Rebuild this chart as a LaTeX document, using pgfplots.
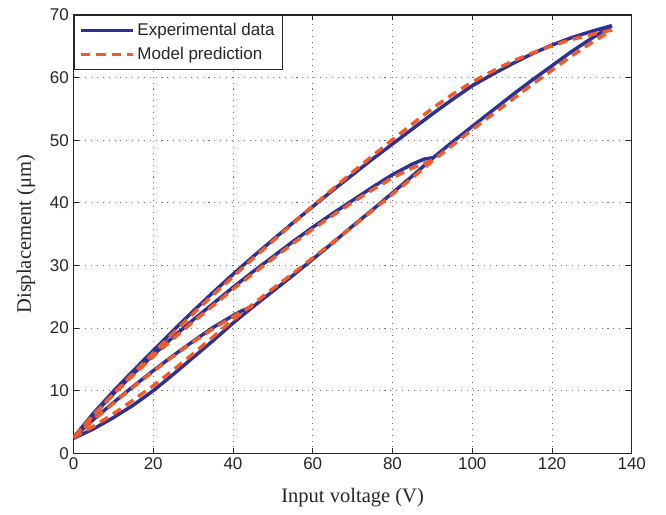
\documentclass[border=0pt]{standalone}
\usepackage{fontspec}
\setmainfont{Liberation Serif}
\newfontfamily\arial{Liberation Sans}
\usepackage{pgfplots}
\pgfplotsset{compat=1.18}
\usepackage{pgfplotstable}
\usetikzlibrary{calc}
\definecolor{expblue}{HTML}{2E3192}
\definecolor{modorange}{HTML}{F15A29}

% experimental data (branches)
\pgfplotstableread{
x y
0 2.4
5 3.9
10 5.7
15 7.7
20 10.0
25 12.6
30 15.3
35 18.0
40 20.8
45 23.4
50 25.9
55 28.4
60 31.0
65 33.6
70 36.3
75 38.9
80 41.6
85 44.3
90 47.1
95 49.7
100 52.2
105 54.7
110 57.2
115 59.6
120 61.9
125 64.2
130 66.3
135 68.3
}\expasc
\pgfplotstableread{
x y
135 68.3
130 67.4
125 66.4
120 65.2
115 63.8
110 62.2
105 60.5
100 58.7
95 56.5
90 54.2
85 51.8
80 49.4
75 47.0
70 44.5
65 42.0
60 39.4
55 36.8
50 34.1
45 31.4
40 28.6
35 25.7
30 22.7
25 19.6
20 16.4
15 13.2
10 9.9
5 6.4
0 2.5
}\expdesca
\pgfplotstableread{
x y
90 47.2
88 47.0
85 46.2
80 44.5
75 42.5
70 40.4
65 38.3
60 36.1
55 33.8
50 31.4
45 29.0
40 26.5
35 23.9
30 21.3
25 18.6
20 15.7
15 12.7
10 9.5
5 6.2
0 2.5
}\expdescb
\pgfplotstableread{
x y
45 23.5
42 22.7
40 22.0
35 20.1
30 17.9
25 15.6
20 13.2
15 10.7
10 8.1
5 5.4
0 2.5
}\expdescc

% model prediction (branches)
\pgfplotstableread{
x y
0 2.5
5 4.3
10 6.3
15 8.5
20 10.8
25 13.3
30 15.9
35 18.6
40 21.3
45 23.8
50 26.3
55 28.7
60 31.2
65 33.7
70 36.2
75 38.8
80 41.4
85 44.0
90 46.7
95 49.2
100 51.7
105 54.1
110 56.5
115 58.9
120 61.2
125 63.5
130 65.6
135 67.6
}\modasc
\pgfplotstableread{
x y
135 67.6
130 66.9
125 66.1
120 65.1
115 63.9
110 62.6
105 61.0
100 59.3
95 57.3
90 55.1
85 52.6
80 50.1
75 47.5
70 44.9
65 42.2
60 39.5
55 36.7
50 33.9
45 31.1
40 28.2
35 25.3
30 22.3
25 19.2
20 16.0
15 12.8
10 9.5
5 6.1
0 2.5
}\moddesca
\pgfplotstableread{
x y
90 46.8
85 45.6
80 44.0
75 42.1
70 40.1
65 38.0
60 35.8
55 33.5
50 31.1
45 28.7
40 26.2
35 23.6
30 21.0
25 18.3
20 15.5
15 12.5
10 9.4
5 6.1
0 2.5
}\moddescb
\pgfplotstableread{
x y
45 23.6
40 21.8
35 19.9
30 17.8
25 15.5
20 13.1
15 10.6
10 8.0
5 5.3
0 2.5
}\moddescc

\begin{document}
\begin{tikzpicture}
\begin{axis}[
    scale only axis,
    width=418.6pt,
    height=328.7pt,
    xmin=0, xmax=140,
    ymin=0, ymax=70,
    xtick={0,20,...,140},
    ytick={0,10,...,70},
    grid=major,
    major grid style={black!55, line width=0.6pt, dash pattern=on 0.8pt off 3.6pt},
    axis line style={line width=0.9pt, black!85},
    major tick style={line width=0.7pt, black!85},
    major tick length=4pt,
    tick label style={font=\fontsize{12.75}{15}\arial, black!85},
    /pgf/number format/assume math mode=true,
    xlabel={Input voltage (V)},
    ylabel={Displacement (μm)},
    label style={font=\fontsize{15.4}{18}\selectfont, black!85},
    xlabel style={yshift=-7pt},
    ylabel style={yshift=4pt},
    legend style={at={(0,1)}, anchor=north west, draw=black!85, line width=0.8pt,
        font=\fontsize{12.75}{15}\arial, fill=white,
        inner xsep=4pt, inner ysep=4pt, row sep=3pt, text=black!85},
    legend cell align=left,
    legend image code/.code={\draw[#1] (0pt,0pt) -- (39pt,0pt);},
]
\addplot[expblue, line width=2.6pt] table {\expasc};
\addlegendentry{Experimental data}
\addplot[modorange, line width=2.6pt, dash pattern=on 7pt off 4.5pt] table {\modasc};
\addlegendentry{Model prediction}
\addplot[expblue, line width=2.6pt, forget plot] table {\expdesca};
\addplot[expblue, line width=2.6pt, forget plot] table {\expdescb};
\addplot[expblue, line width=2.6pt, forget plot] table {\expdescc};
\addplot[modorange, line width=2.6pt, dash pattern=on 7pt off 4.5pt, forget plot] table {\moddesca};
\addplot[modorange, line width=2.6pt, dash pattern=on 7pt off 4.5pt, forget plot] table {\moddescb};
\addplot[modorange, line width=2.6pt, dash pattern=on 7pt off 4.5pt, forget plot] table {\moddescc};
\end{axis}
\pgfresetboundingbox
\path ($(current axis.south west)+(-55.1pt,-45.5pt)$) rectangle ($(current axis.north east)+(25.7pt,11.25pt)$);
\end{tikzpicture}
\end{document}
